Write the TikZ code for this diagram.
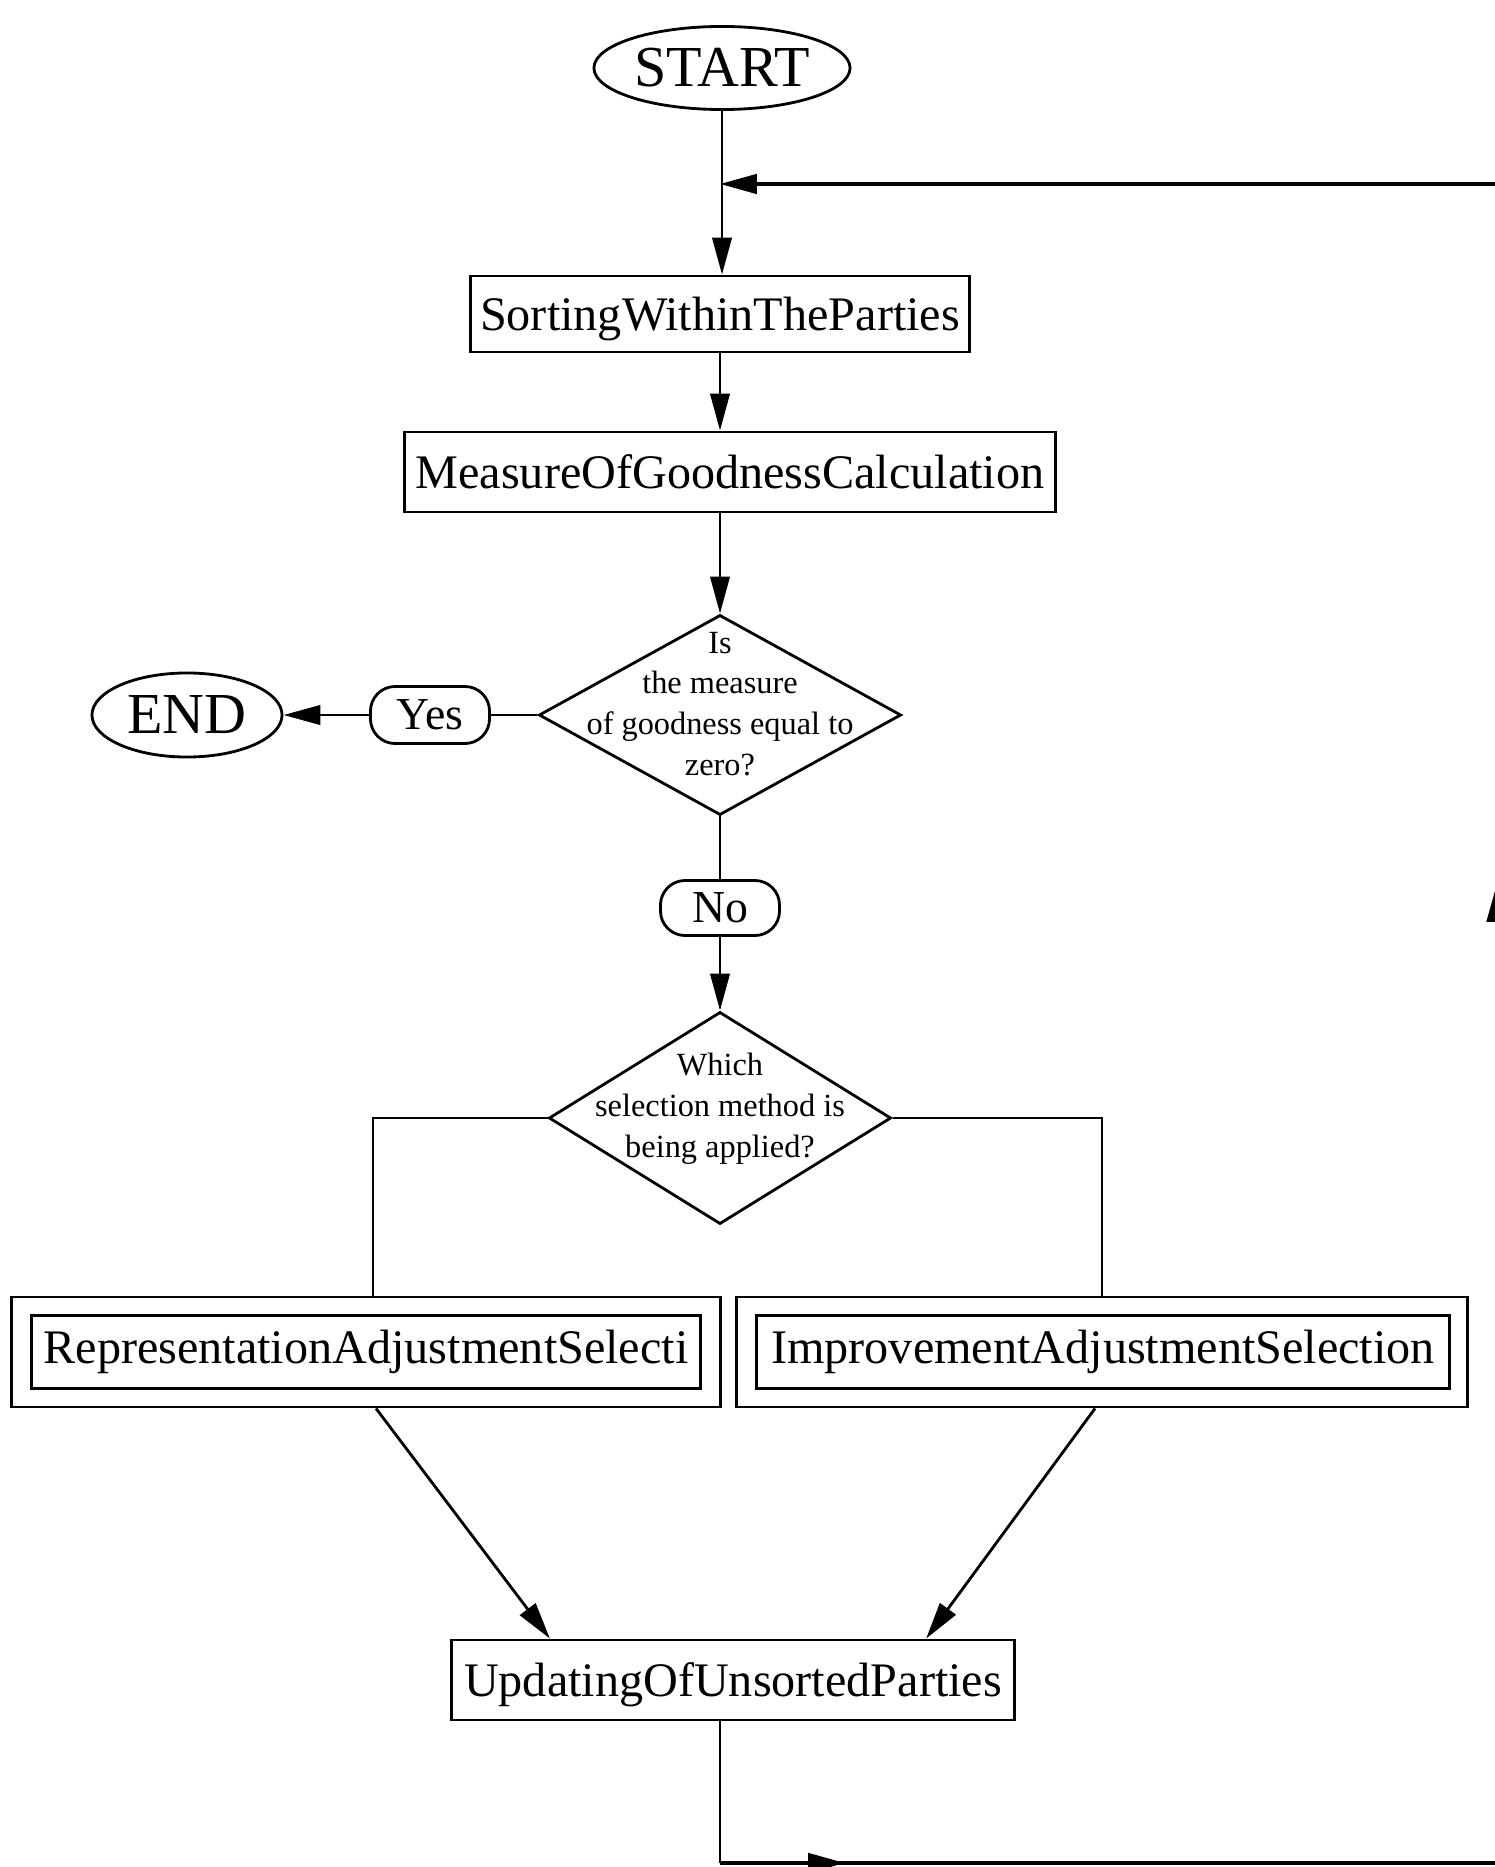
\documentclass[tikz,border=0pt]{standalone}
\usepackage{fontspec}
\setmainfont{Liberation Serif}
\usetikzlibrary{shapes.geometric,arrows.meta}
\begin{document}
\begin{tikzpicture}[x=0.01cm,y=-0.01cm,
  line width=0.8pt,
  tip/.style={-{Triangle[length=10.5pt,width=5.5pt]}},
  box/.style={draw, rectangle, inner sep=0pt, font=\fontsize{13.7}{16}\selectfont},
  frame/.style={draw, rectangle, inner sep=0pt},
  term/.style={draw, ellipse, inner sep=0pt, font=\fontsize{16.5}{19}\selectfont},
  pill/.style={draw, rounded corners=7pt, inner sep=0pt, font=\fontsize{13}{15}\selectfont},
  dia/.style={draw, diamond, inner sep=0pt},
  qtext/.style={align=center, font=\fontsize{9.2}{11.6}\selectfont, inner sep=0pt},
  loopline/.style={line width=1.1pt}
]
\useasboundingbox (0,0) rectangle (1495,1867);

% main column
\node[term, minimum width=2.56cm, minimum height=0.83cm] (start) at (722,68) {START};
\node[box, text depth=0pt, minimum width=4.99cm, minimum height=0.76cm] (sort) at (720,314) {SortingWithinTheParties};
\node[box, minimum width=6.50cm, minimum height=0.80cm] (meas) at (730,472) {MeasureOfGoodnessCalculation};
\node[dia, minimum width=3.62cm, minimum height=2.00cm] (q1) at (720,715) {};
\node[qtext] (q1t) at (720,704) {Is\\the measure\\of goodness equal to\\zero?};
\node[pill, minimum width=1.19cm, minimum height=0.57cm] (yes) at (430,715) {Yes};
\node[term, minimum width=1.90cm, minimum height=0.84cm] (end) at (187,715) {END};
\node[pill, minimum width=1.19cm, minimum height=0.55cm] (no) at (720,908) {No};
\node[dia, minimum width=3.42cm, minimum height=2.12cm] (q2) at (720,1118) {};
\node[qtext] (q2t) at (720,1109) {Which\\selection method is\\being applied?};

% selection procedures (double frames)
\node[frame, minimum width=7.09cm, minimum height=1.10cm] (repo) at (366,1352) {};
\node[box, minimum width=6.69cm, minimum height=0.73cm] (repi) at (366,1352) {RepresentationAdjustmentSelecti};
\node[frame, minimum width=7.31cm, minimum height=1.10cm] (impo) at (1102,1352) {};
\node[box, minimum width=6.92cm, minimum height=0.73cm] (impi) at (1103,1352) {ImprovementAdjustmentSelection};

\node[box, text depth=0pt, minimum width=5.62cm, minimum height=0.80cm] (upd) at (733,1680) {UpdatingOfUnsortedParties};

% loop corners (the right-hand run sits on the page edge)
\coordinate (bl) at (720,1863);
\coordinate (br) at (1496.5,1863);
\coordinate (tr) at (1496.5,184);
\coordinate (join) at (720,184);
\coordinate (m1) at (845,1863);
\coordinate (m2) at (1496.5,885);

% connectors
\draw[tip] (start.south) -- (start.south |- sort.north);
\draw[tip] (sort.south) -- (sort.south |- meas.north);
\draw[tip] (meas.south -| q1.north) -- (q1.north);
\draw (q1.west) -- (yes.east);
\draw[tip] (yes.west) -- (end.east);
\draw (q1.south) -- (no.north);
\draw[tip] (no.south) -- (q2.north);
\draw (q2.west) -| ([xshift=0.07cm]repo.north);
\draw (q2.east) -| (impo.north);
\draw[tip] ([xshift=0.1cm]repo.south) -- ([xshift=-1.83cm]upd.north);
\draw[tip] ([xshift=-0.07cm]impo.south) -- ([xshift=1.93cm]upd.north);

% feedback loop
\draw (upd.south -| sort.south) -- (bl);
\draw[loopline] (bl) -- (br) -- (tr);
\draw[loopline, tip] (tr) -- (join);
\draw[loopline, tip] (bl) -- (m1);
\draw[loopline, tip] (br) -- (m2);
\end{tikzpicture}
\end{document}
